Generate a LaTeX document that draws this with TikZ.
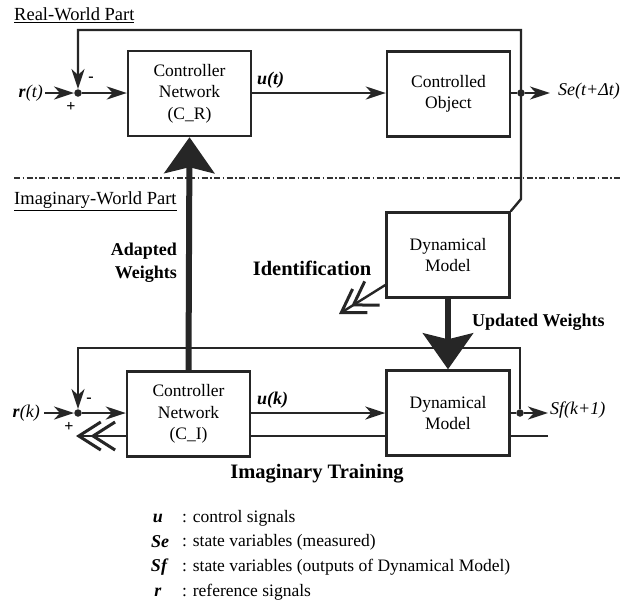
\documentclass[tikz,border=0pt]{standalone}
\usepackage{fontspec}
\setmainfont{Liberation Serif}
\usetikzlibrary{arrows.meta}
\begin{document}
\begin{tikzpicture}[x=1pt,y=-1pt,
  ink/.style={draw=black!85, line width=2.4pt},
  block/.style={ink, rectangle, minimum width=123pt, minimum height=85pt,
    align=center, inner sep=0pt, font=\fontsize{17.5}{21.5}\selectfont},
  sig/.style={ink, -{Stealth[length=20pt,width=13pt,inset=6pt]}},
  dbl/.style={ink, -{Straight Barb[length=22pt,width=28pt,sep=-12pt,line width=3pt]
                     Straight Barb[length=22pt,width=28pt,line width=3pt]}},
  big/.style={draw=black!85, line width=6pt,
    -{Stealth[length=36pt,width=50pt,inset=6pt]}},
  junc/.style={circle, fill=black!85, inner sep=0pt, minimum size=7.5pt},
  lbl/.style={inner sep=0pt, font=\fontsize{18}{21}\selectfont},
  head/.style={inner sep=0pt, anchor=west, font=\fontsize{18.5}{22}\selectfont},
  bold/.style={inner sep=0pt, font=\fontsize{18}{23}\bfseries\selectfont},
  title/.style={inner sep=0pt, font=\fontsize{20.5}{24}\bfseries\selectfont},
  pm/.style={inner sep=0pt, font=\fontsize{16}{16}\bfseries\selectfont},
  key/.style={inner sep=0pt, font=\fontsize{18}{21}\bfseries\itshape\selectfont},
  keytext/.style={inner sep=0pt, anchor=west, font=\fontsize{17.5}{21}\selectfont}
]
\useasboundingbox[fill=white] (0,0) rectangle (624,611);

% section headings and divider
\node[head] (hreal) at (14,15) {\underline{Real-World Part}};
\node[head] (himag) at (14,201) {\underline{Imaginary-World Part}};
\draw[black!80, line width=1.5pt, dash pattern=on 6pt off 2.5pt on 1.5pt off 2.5pt]
  (14,178) -- (620,178);

% blocks
\node[block] (cr)  at (189.5,93.5) {Controller\\Network\\(C\_R)};
\node[block] (co)  at (448.5,94)   {Controlled\\Object};
\node[block] (dm1) at (448,255)    {Dynamical\\Model};
\node[block] (ci)  at (188.5,414)  {Controller\\Network\\(C\_I)};
\node[block] (dm2) at (448,413)    {Dynamical\\Model};

% summing points and branch points
\node[junc] (j1) at (78,93) {};
\node[junc] (j2) at (78,413) {};
\node[junc] (o1) at (521,93) {};
\node[junc] (o2) at (520,413) {};

% real-world loop
\coordinate (rin1) at (45,93);
\coordinate (seout) at (550,93);
\coordinate (fb1a) at (521,30);
\coordinate (fb1b) at (78,30);
\coordinate (idin) at (521,199);
\node[lbl, anchor=east] (rt) at (43,93) {\textbf{\textit{r}}\textit{(t)}};
\node[pm] (m1) at (91,79) {-};
\node[pm] (p1) at (71,107) {+};
\draw[sig] (rin1) -- (j1);
\draw[sig] (j1) -- (cr.west |- j1);
\node[lbl, anchor=west, font=\fontsize{18}{21}\bfseries\itshape\selectfont] (ut) at (257,80) {u(t)};
\draw[sig] (cr.east |- j1) -- (co.west |- j1);
\draw[ink] (co.east |- o1) -- (o1);
\draw[sig] (o1) -- (seout);
\node[lbl, anchor=west, font=\fontsize{18}{21}\itshape\selectfont] (se) at (558,91) {Se(t+Δt)};
\draw[sig] (dm1.north east) -- (idin) -- (fb1a) -- (fb1b) -- (j1);

% identification output
\coordinate (idout) at (339,314);
\draw[dbl] (dm1.west |- 0,285) -- (idout);
\node[title] (ident) at (312,268) {Identification};

% adapted weights
\draw[big] (ci.north) -- (cr.south);
\node[bold, anchor=east, align=right] (aw) at (177,263) {Adapted\\Weights};

% updated weights
\draw[big] (dm1.south) -- (dm2.north);
\node[bold, anchor=west] (uw) at (472,322) {Updated Weights};

% imaginary loop
\coordinate (rin2) at (44,413);
\coordinate (sfout) at (548,413);
\coordinate (fb2a) at (520,348);
\coordinate (fb2b) at (78,348);
\node[lbl, anchor=east] (rk) at (40,413) {\textbf{\textit{r}}\textit{(k)}};
\node[pm] (m2) at (89,400) {-};
\node[pm] (p2) at (69,427) {+};
\draw[sig] (rin2) -- (j2);
\draw[sig] (j2) -- (ci.west |- j2);
\node[lbl, anchor=west, font=\fontsize{18}{21}\bfseries\itshape\selectfont] (uk) at (257,400) {u(k)};
\draw[sig] (ci.east |- j2) -- (dm2.west |- j2);
\draw[ink] (dm2.east |- o2) -- (o2);
\draw[sig] (o2) -- (sfout);
\node[lbl, anchor=west, font=\fontsize{18}{21}\itshape\selectfont] (sf) at (550,410) {Sf(k+1)};
\draw[sig] (o2) -- (fb2a) -- (fb2b) -- (j2);

% training signal path
\coordinate (trin) at (548,436);
\coordinate (trout) at (76,436);
\draw[ink] (trin) -- (dm2.east |- trin);
\draw[ink] (dm2.west |- trin) -- (ci.east |- trin);
\draw[dbl] (ci.west |- trin) -- (trout);
\node[title] (train) at (317,474) {Imaginary Training};

% legend
\node[key] (ku)  at (158,518) {u};
\node[key] (kse) at (160,542) {Se};
\node[key] (ksf) at (159,567) {Sf};
\node[key] (kr)  at (158,592) {r};
\node[keytext] (tu)  at (182,518) {: control signals};
\node[keytext] (tse) at (182,542) {: state variables (measured)};
\node[keytext] (tsf) at (182,567) {: state variables (outputs of Dynamical Model)};
\node[keytext] (tr)  at (182,592) {: reference signals};
\end{tikzpicture}
\end{document}
